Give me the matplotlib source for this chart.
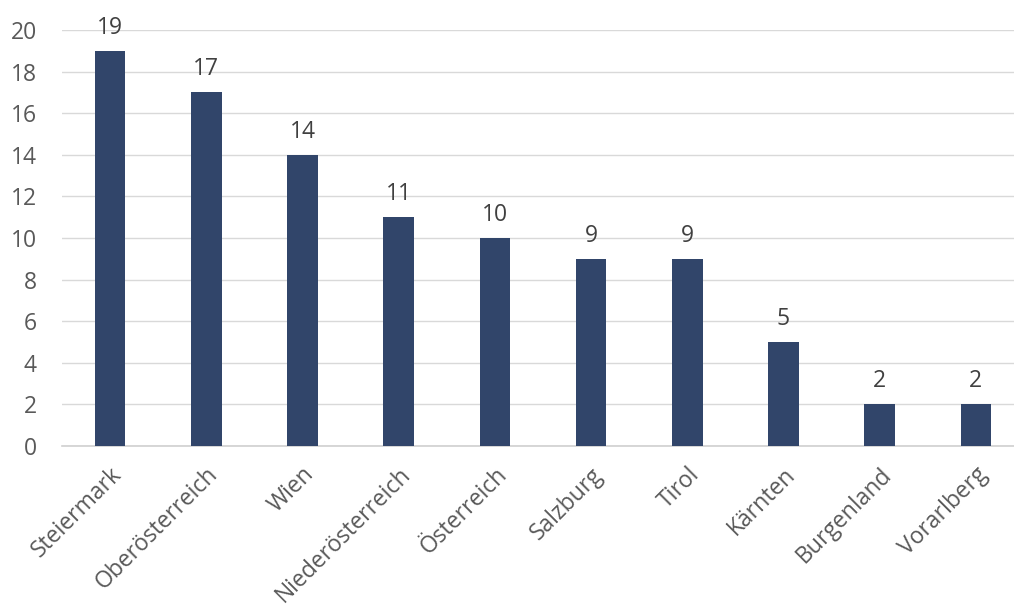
import matplotlib.pyplot as plt

regions = ["Steiermark", "Oberösterreich", "Wien", "Niederösterreich", "Österreich",
           "Salzburg", "Tirol", "Kärnten", "Burgenland", "Vorarlberg"]
counts = [19, 17, 14, 11, 10, 9, 9, 5, 2, 2]

plt.rcParams['font.family'] = ['Open Sans', 'DejaVu Sans']

W, H = 1014, 614
fig = plt.figure(figsize=(W / 100, H / 100), dpi=100)
ax = fig.add_axes([62 / W, 1 - 446 / H, (W - 62) / W, (446 - 30) / H])

x = range(len(regions))
bars = ax.bar(x, counts, width=0.32, color="#31456A", zorder=3)
ax.bar_label(bars, labels=[str(c) for c in counts], padding=8, fontsize=16.5, color="#404040")

ax.set_ylim(0, 20)
ax.set_yticks(range(0, 21, 2))
ax.set_xlim(-0.5, 9.396)
ax.yaxis.grid(True, color="#D9D9D9", linewidth=1, zorder=0)
for s in ["top", "right", "left"]:
    ax.spines[s].set_visible(False)
ax.spines["bottom"].set_color("#D0D0D0")
ax.spines["bottom"].set_linewidth(1.2)
ax.tick_params(axis="both", length=0, labelsize=16.5, colors="#595959")
ax.tick_params(axis="y", pad=18)

ax.set_xticks(list(x))
ax.set_xticklabels(regions, rotation=45, ha="right", va="top", rotation_mode="anchor")
ax.tick_params(axis="x", pad=12)

fig.savefig("out.png", dpi=100)
